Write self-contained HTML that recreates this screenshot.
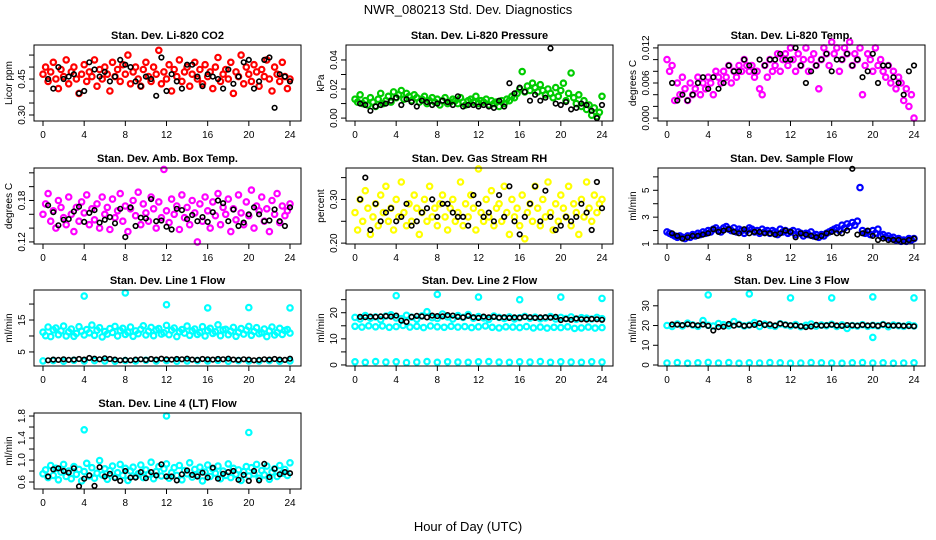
<!DOCTYPE html>
<html><head><meta charset="utf-8"><style>
html,body{margin:0;padding:0;background:#fff}
svg{display:block}
text{font-family:"Liberation Sans",sans-serif;fill:#000}
</style></head><body>
<svg id="chart" width="936" height="540" viewBox="0 0 936 540" xmlns="http://www.w3.org/2000/svg">
<text x="468" y="14" font-size="13" text-anchor="middle">NWR_080213 Std. Dev. Diagnostics</text>
<text x="468" y="531" font-size="13" text-anchor="middle">Hour of Day (UTC)</text>
</svg>
<script>
// ---- data ----
const hourTicks = [0,4,8,12,16,20,24];
const co2Red = [0.47,0.50,0.44,0.48,0.52,0.45,0.41,0.49,0.46,0.53,0.43,0.48,0.50,0.45,0.39,0.47,0.51,0.44,0.48,0.46,0.53,0.42,0.49,0.45,0.50,0.47,0.40,0.52,0.46,0.49,0.44,0.51,0.47,0.55,0.43,0.48,0.50,0.45,0.42,0.49,0.52,0.46,0.44,0.50,0.47,0.57,0.43,0.48,0.45,0.51,0.40,0.49,0.46,0.53,0.44,0.48,0.50,0.42,0.47,0.52,0.45,0.49,0.43,0.51,0.46,0.48,0.41,0.50,0.54,0.44,0.47,0.49,0.45,0.52,0.39,0.48,0.46,0.55,0.43,0.50,0.47,0.44,0.51,0.48,0.42,0.49,0.46,0.53,0.45,0.40,0.50,0.47,0.44,0.52,0.46,0.41,0.45];
const co2Black = [0.45,0.41,0.50,0.45,0.46,0.47,0.39,0.40,0.52,0.49,0.46,0.48,0.44,0.46,0.53,0.51,0.50,0.44,0.42,0.46,0.45,0.38,0.54,0.40,0.47,0.44,0.41,0.51,0.51,0.46,0.42,0.47,0.46,0.45,0.41,0.49,0.43,0.46,0.52,0.53,0.41,0.44,0.53,0.54,0.33,0.47,0.46,0.44];
const presGreen = [0.013,0.011,0.016,0.010,0.012,0.009,0.014,0.011,0.008,0.013,0.017,0.010,0.012,0.015,0.011,0.018,0.014,0.016,0.019,0.013,0.017,0.015,0.012,0.016,0.014,0.011,0.013,0.015,0.010,0.012,0.014,0.011,0.013,0.009,0.012,0.014,0.010,0.011,0.013,0.012,0.010,0.014,0.011,0.009,0.012,0.013,0.011,0.015,0.010,0.012,0.011,0.013,0.009,0.012,0.010,0.011,0.008,0.012,0.010,0.013,0.012,0.015,0.014,0.017,0.020,0.032,0.018,0.022,0.019,0.024,0.021,0.018,0.023,0.019,0.016,0.020,0.017,0.014,0.021,0.015,0.019,0.024,0.012,0.017,0.031,0.014,0.010,0.016,0.008,0.012,0.006,0.009,0.002,0.007,0.001,0.004,0.015];
const presBlack = [0.010,0.009,0.005,0.008,0.009,0.010,0.012,0.014,0.009,0.013,0.011,0.008,0.012,0.011,0.009,0.010,0.012,0.011,0.009,0.015,0.008,0.009,0.009,0.008,0.009,0.008,0.007,0.012,0.008,0.024,0.017,0.021,0.018,0.012,0.016,0.012,0.014,0.048,0.010,0.009,0.011,0.006,0.007,0.010,0.009,0.005,0.000,0.009];
const tempMag = [0.010,0.008,0.009,0.003,0.006,0.004,0.007,0.005,0.003,0.006,0.004,0.005,0.007,0.004,0.006,0.005,0.007,0.006,0.004,0.008,0.007,0.006,0.008,0.007,0.009,0.006,0.008,0.007,0.009,0.008,0.010,0.009,0.008,0.009,0.007,0.008,0.005,0.004,0.009,0.007,0.010,0.008,0.009,0.011,0.008,0.010,0.011,0.009,0.012,0.010,0.008,0.011,0.009,0.010,0.012,0.008,0.010,0.011,0.009,0.005,0.010,0.012,0.011,0.009,0.013,0.011,0.012,0.008,0.010,0.012,0.011,0.013,0.009,0.011,0.010,0.012,0.004,0.009,0.011,0.010,0.008,0.012,0.009,0.010,0.008,0.007,0.009,0.006,0.008,0.005,0.007,0.006,0.003,0.005,0.002,0.004,0.000];
const tempBlack = [0.006,0.003,0.004,0.003,0.004,0.006,0.007,0.005,0.007,0.005,0.006,0.009,0.008,0.008,0.010,0.009,0.008,0.010,0.009,0.010,0.010,0.011,0.010,0.010,0.012,0.009,0.006,0.008,0.009,0.010,0.011,0.008,0.010,0.010,0.011,0.009,0.010,0.007,0.008,0.011,0.006,0.009,0.009,0.007,0.006,0.004,0.008,0.009];
const boxMag = [0.160,0.175,0.190,0.150,0.165,0.140,0.180,0.170,0.155,0.145,0.185,0.160,0.135,0.170,0.150,0.178,0.162,0.188,0.145,0.168,0.152,0.175,0.140,0.185,0.160,0.170,0.138,0.182,0.155,0.165,0.190,0.150,0.172,0.135,0.168,0.180,0.158,0.192,0.145,0.175,0.162,0.150,0.185,0.168,0.140,0.178,0.155,0.225,0.165,0.148,0.182,0.160,0.172,0.138,0.188,0.155,0.170,0.145,0.180,0.162,0.120,0.175,0.150,0.185,0.165,0.140,0.178,0.158,0.190,0.145,0.170,0.160,0.182,0.135,0.168,0.152,0.188,0.162,0.145,0.178,0.158,0.195,0.140,0.172,0.165,0.185,0.150,0.168,0.135,0.180,0.160,0.190,0.148,0.172,0.158,0.165,0.175];
const boxBlack = [0.173,0.163,0.144,0.152,0.153,0.164,0.171,0.149,0.162,0.166,0.148,0.152,0.156,0.147,0.168,0.127,0.170,0.143,0.155,0.154,0.182,0.150,0.151,0.142,0.138,0.168,0.166,0.153,0.159,0.150,0.156,0.149,0.163,0.180,0.176,0.150,0.167,0.143,0.148,0.160,0.170,0.160,0.150,0.151,0.167,0.150,0.143,0.170];
const rhYellow = [0.27,0.23,0.30,0.25,0.32,0.28,0.22,0.26,0.29,0.24,0.31,0.27,0.33,0.25,0.28,0.23,0.30,0.26,0.34,0.27,0.24,0.29,0.25,0.31,0.28,0.22,0.27,0.30,0.25,0.33,0.26,0.28,0.24,0.29,0.31,0.26,0.23,0.28,0.30,0.25,0.27,0.34,0.24,0.29,0.26,0.31,0.28,0.23,0.37,0.27,0.25,0.30,0.26,0.32,0.24,0.28,0.29,0.25,0.33,0.27,0.22,0.30,0.26,0.28,0.24,0.31,0.21,0.27,0.29,0.25,0.33,0.28,0.24,0.30,0.26,0.34,0.27,0.23,0.29,0.25,0.31,0.28,0.26,0.33,0.24,0.29,0.27,0.22,0.30,0.26,0.34,0.28,0.25,0.31,0.27,0.29,0.30];
const rhBlack = [0.30,0.35,0.23,0.29,0.25,0.27,0.28,0.25,0.26,0.29,0.24,0.25,0.27,0.28,0.30,0.26,0.29,0.29,0.27,0.26,0.26,0.24,0.31,0.29,0.26,0.27,0.25,0.31,0.26,0.33,0.25,0.22,0.26,0.29,0.33,0.25,0.32,0.26,0.23,0.24,0.26,0.25,0.26,0.29,0.27,0.23,0.34,0.28];
const flowBlue = [1.9,1.8,1.7,1.6,1.5,1.6,1.5,1.4,1.6,1.5,1.7,1.6,1.8,1.7,1.9,1.8,2.0,1.9,2.1,2.2,2.0,1.9,2.2,2.3,2.1,2.0,2.2,1.9,2.1,2.0,1.8,2.0,2.2,2.1,1.9,2.0,1.8,2.1,1.9,2.0,1.8,2.0,1.9,1.7,2.1,1.9,2.0,1.8,1.9,2.0,1.7,1.9,1.8,1.6,1.8,1.7,1.9,1.6,1.7,1.5,1.7,1.6,1.8,1.9,2.0,2.1,2.2,2.0,2.4,2.2,2.5,2.3,2.6,2.4,2.7,5.2,2.0,1.8,1.9,1.7,2.0,1.8,2.1,1.6,1.7,1.5,1.6,1.4,1.5,1.3,1.4,1.2,1.3,1.2,1.4,1.3,1.4];
const flowBlack = [1.8,1.6,1.4,1.5,1.6,1.6,1.7,1.8,2.1,1.9,2.0,2.1,1.9,1.8,2.1,1.8,1.9,1.9,1.8,1.8,1.7,1.8,2.0,1.9,1.5,1.8,1.7,1.6,1.5,1.6,1.8,1.9,1.8,1.8,2.0,6.6,1.7,1.8,2.0,1.6,1.3,1.4,1.3,1.3,1.3,1.2,1.3,1.4];
const spikeHours = [4,8,12,16,20,24];
const line1Cyan = [11.2,10.1,12.8,9.8,11.9,12.5,10.4,11.6,13.1,10.0,11.3,12.2,9.9,10.8,12.9,11.5,10.3,12.0,11.0,13.4,10.2,11.8,12.6,9.7,11.4,10.6,12.3,11.1,13.0,10.0,11.7,12.4,10.5,11.2,12.8,9.9,11.6,10.7,12.1,13.2,10.3,11.5,12.7,10.1,11.9,12.3,10.6,11.0,13.3,10.4,11.8,12.5,9.8,11.3,12.0,10.9,13.1,10.2,11.6,12.2,10.5,11.1,12.9,10.0,11.7,12.4,10.8,11.3,13.5,10.1,11.9,12.1,10.4,11.5,12.7,9.9,11.2,12.3,10.6,11.8,13.0,10.2,11.4,12.6,10.7,11.0,12.2,9.8,11.6,12.8,10.3,11.1,12.4,10.5,11.7,12.0,10.9];
const line1Low = [2.2,2.3,2.1,2.4,2.2,2.3,2.2,2.1,2.3,2.2,2.4,2.2,2.3,2.1,2.2,2.3,2.2,2.4,2.1,2.3,2.2,2.2,2.3,2.1,2.2];
const line1Black = [2.4,2.6,2.5,2.7,2.5,2.6,2.8,2.6,3.1,2.9,2.7,3.0,2.8,2.6,2.4,2.5,2.4,2.6,2.7,2.5,2.8,2.6,2.9,2.7,2.6,2.8,2.7,2.9,2.6,2.5,2.8,2.7,2.6,2.8,2.7,2.9,2.6,2.5,2.7,2.6,2.4,2.5,2.7,2.6,2.8,2.6,2.5,2.9];
const line1Spikes = [22.5,23.5,19.8,18.8,18.9,18.8];
const line2Upper = [18.2,17.6,18.9,17.9,18.4,17.3,18.7,19.2,18.0,17.7,19.0,18.3,17.5,18.8,20.4,18.1,17.8,19.5,18.4,17.6,18.9,18.2,19.3,17.9,18.5,18.0,17.4,18.7,18.2,17.8,18.4,17.6,18.1,18.6,17.9,18.3,17.7,18.0,18.5,17.6,18.2,17.8,18.4,17.5,18.1,17.9,17.6,18.2,17.7];
const line2Mid = [14.8,14.5,15.0,14.6,14.9,14.4,14.7,15.1,14.5,14.8,14.3,14.9,14.6,14.4,14.8,14.5,14.7,14.3,14.6,14.9,14.4,14.2,14.6,14.5,14.3,14.7,14.2,14.5,14.1,14.4,14.3,14.6,14.0,14.2,14.5,14.1,14.3];
const line2Low = [1.2,1.0,1.3,1.1,1.2,0.9,1.1,1.3,1.0,1.2,1.1,1.0,1.2,1.3,1.1,1.0,1.2,1.1,1.3,1.0,1.2,1.1,1.0,1.2,1.1];
const line2Black = [18.4,18.3,18.5,18.4,18.6,18.7,18.5,18.9,17.0,16.5,18.4,18.8,18.6,18.2,18.9,18.7,18.6,19.1,18.9,18.4,18.2,18.8,18.3,18.0,18.5,18.2,18.4,18.1,18.3,18.0,18.2,18.1,18.4,18.3,18.0,18.2,18.3,18.1,18.4,17.2,17.6,17.3,17.8,17.5,17.4,17.6,17.5,17.3];
const line2Spikes = [26.5,27.0,26.0,25.0,26.0,25.5];
const line3Upper = [20.0,19.5,20.8,19.8,21.2,20.3,19.6,22.5,20.1,19.7,21.0,20.4,19.9,22.0,20.6,19.8,20.2,21.5,19.5,20.7,20.0,19.6,20.9,20.3,19.8,20.5,19.4,20.1,20.8,19.7,20.2,19.9,20.6,19.5,20.3,18.5,20.0,19.7,20.4,19.6,20.1,19.8,20.5,19.4,20.2,19.9,19.6,20.3,19.8];
const line3Low = [1.0,1.2,0.9,1.1,1.3,1.0,1.2,0.9,1.1,1.0,1.2,1.1,0.9,1.0,1.2,1.1,1.0,0.9,1.1,1.2,1.0,1.1,0.9,1.0,1.1];
const line3Black = [20.5,20.4,20.2,20.6,20.3,20.1,20.5,19.8,17.5,19.2,19.4,20.8,19.9,20.5,19.8,20.1,20.3,21.2,20.2,20.6,20.0,21.0,20.4,20.1,20.0,19.6,19.2,19.5,20.3,19.9,20.1,20.4,20.0,19.8,20.2,20.1,19.9,20.3,20.0,20.2,19.8,20.5,20.1,19.9,20.0,19.8,19.7,19.6];
const line3Spikes = [35.5,36.0,34.0,34.0,34.5,34.0];
const line3Dip = [14.0];
const line4Cyan = [0.75,0.82,0.68,0.90,0.72,0.85,0.64,0.78,0.92,0.70,0.80,0.66,0.88,0.74,0.83,0.62,0.79,0.94,0.71,0.86,0.67,0.76,0.99,0.73,0.84,0.65,0.81,0.89,0.69,0.77,0.92,0.72,0.85,0.63,0.80,0.87,0.70,0.75,0.91,0.68,0.82,0.74,0.96,0.66,0.79,0.88,0.71,0.84,0.93,0.67,0.77,0.86,0.72,0.90,0.64,0.81,0.75,0.95,0.69,0.83,0.73,0.87,0.62,0.78,0.91,0.70,0.84,0.76,0.89,0.66,0.80,0.72,0.93,0.68,0.85,0.74,0.82,0.63,0.79,0.88,0.71,0.86,0.75,0.92,0.67,0.81,0.73,0.89,0.65,0.78,0.84,0.70,0.90,0.76,0.83,0.72,0.95];
const line4Black = [0.70,0.83,0.85,0.80,0.77,0.85,0.52,0.66,0.72,0.53,0.87,0.70,0.75,0.67,0.62,0.80,0.68,0.68,0.78,0.67,0.78,0.72,0.92,0.70,0.70,0.63,0.74,0.81,0.73,0.70,0.77,0.68,0.86,0.66,0.75,0.78,0.80,0.64,0.73,0.62,0.80,0.63,0.93,0.69,0.84,0.74,0.78,0.76];
const line4Spikes = [1.55,1.80,1.50];
const line4SpikeHours = [4,12,20];

// ---- panels ----
const COLS=[34,346,658], ROWS=[45,168,290,413], BW=267, BH=76;
const panels=[
 {name:'co2',title:'Stan. Dev. Li-820 CO2',ylab:'Licor ppm',c:0,r:0,lo:0.275,hi:0.592,ticks:[0.30,0.35,0.40,0.45,0.50,0.55],labels:[0.30,0.45],fmt:2,
  series:[{v:co2Red,col:'#ff0000'},{v:co2Black,col:'#000',black:true}]},
 {name:'pressure',title:'Stan. Dev. Li-820 Pressure',ylab:'kPa',c:1,r:0,lo:-0.002,hi:0.0503,ticks:[0,0.01,0.02,0.03,0.04],labels:[0,0.02,0.04],fmt:2,
  series:[{v:presGreen,col:'#00cc00'},{v:presBlack,col:'#000',black:true}]},
 {name:'li820-temp',title:'Stan. Dev. Li-820 Temp.',ylab:'degrees C',c:2,r:0,lo:-0.0005,hi:0.0125,ticks:[0,0.002,0.004,0.006,0.008,0.010,0.012],labels:[0,0.006,0.012],fmt:3,
  series:[{v:tempMag,col:'#ff00ff'},{v:tempBlack,col:'#000',black:true}]},
 {name:'box-temp',title:'Stan. Dev. Amb. Box Temp.',ylab:'degrees C',c:0,r:1,lo:0.117,hi:0.227,ticks:[0.12,0.14,0.16,0.18,0.20,0.22],labels:[0.12,0.18],fmt:2,
  series:[{v:boxMag,col:'#ff00ff'},{v:boxBlack,col:'#000',black:true}]},
 {name:'gas-rh',title:'Stan. Dev. Gas Stream RH',ylab:'percent',c:1,r:1,lo:0.198,hi:0.372,ticks:[0.20,0.25,0.30,0.35],labels:[0.20,0.30],fmt:2,
  series:[{v:rhYellow,col:'#ffff00'},{v:rhBlack,col:'#000',black:true}]},
 {name:'sample-flow',title:'Stan. Dev. Sample Flow',ylab:'ml/min',c:2,r:1,lo:1.0,hi:6.66,ticks:[1,2,3,4,5,6],labels:[1,3,5],fmt:0,
  series:[{v:flowBlue,col:'#0000ff'},{v:flowBlack,col:'#000',black:true}]},
 {name:'line1-flow',title:'Stan. Dev. Line 1 Flow',ylab:'ml/min',c:0,r:2,lo:0.6,hi:24.4,ticks:[5,10,15,20],labels:[5,15],fmt:0,
  series:[{v:line1Cyan,col:'#00ffff'},{v:line1Low,col:'#00ffff'},{v:line1Spikes,h:spikeHours,col:'#00ffff'},{v:line1Black,col:'#000',black:true}]},
 {name:'line2-flow',title:'Stan. Dev. Line 2 Flow',ylab:'ml/min',c:1,r:2,lo:-0.4,hi:28.7,ticks:[0,5,10,15,20,25],labels:[0,10,20],fmt:0,
  series:[{v:line2Upper,col:'#00ffff'},{v:line2Mid,col:'#00ffff'},{v:line2Low,col:'#00ffff'},{v:line2Spikes,h:spikeHours,col:'#00ffff'},{v:line2Black,col:'#000',black:true}]},
 {name:'line3-flow',title:'Stan. Dev. Line 3 Flow',ylab:'ml/min',c:2,r:2,lo:-0.5,hi:38,ticks:[0,10,20,30],labels:[0,10,20,30],fmt:0,
  series:[{v:line3Upper,col:'#00ffff'},{v:line3Low,col:'#00ffff'},{v:line3Spikes,h:spikeHours,col:'#00ffff'},{v:line3Dip,h:[20],col:'#00ffff'},{v:line3Black,col:'#000',black:true}]},
 {name:'line4-flow',title:'Stan. Dev. Line 4 (LT) Flow',ylab:'ml/min',c:0,r:3,lo:0.473,hi:1.855,ticks:[0.6,0.8,1.0,1.2,1.4,1.6,1.8],labels:[0.6,1.0,1.4,1.8],fmt:1,
  series:[{v:line4Cyan,col:'#00ffff'},{v:line4Spikes,h:line4SpikeHours,col:'#00ffff'},{v:line4Black,col:'#000',black:true}]}
];
const svg=document.getElementById('chart');
const NS='http://www.w3.org/2000/svg';
function mk(tag,attrs,parent){const e=document.createElementNS(NS,tag);for(const k in attrs)e.setAttribute(k,attrs[k]);parent.appendChild(e);return e;}
panels.forEach(p=>{
  const x0=COLS[p.c], y0=ROWS[p.r];
  const g=mk('g',{},svg);
  
  
  const xs=h=>x0+9+h*(247/24);
  const ys=v=>y0+BH-(v-p.lo)/(p.hi-p.lo)*BH;
  p.series.forEach((s,si)=>{
    const sg=mk('g',{fill:'none',stroke:s.col,'stroke-width':s.black?1.6:2.2},g);
    
    
    const n=s.v.length;
    s.v.forEach((v,i)=>{
      let h;
      if(s.h) h=s.h[i]; else if(s.black) h=0.5+i*23.5/(n-1); else h=i*24/(n-1);
      const c=mk('circle',{cx:xs(h).toFixed(1),cy:ys(v).toFixed(1),r:s.black?2.3:2.7},sg);
      
      
    });
  });
  const b=mk('rect',{x:x0,y:y0,width:BW,height:BH,fill:'none',stroke:'#000','stroke-width':1},g);
  
  
  const t=mk('text',{x:x0+BW/2,y:y0-6,'font-size':11,'font-weight':'bold','text-anchor':'middle'},g);
  t.textContent=p.title;
  
  
  const xa=mk('g',{stroke:'#000','stroke-width':1},g);
  
  
  mk('line',{x1:xs(0),x2:xs(24),y1:y0+BH,y2:y0+BH},xa);
  hourTicks.forEach(h=>{
    mk('line',{x1:xs(h),x2:xs(h),y1:y0+BH,y2:y0+BH+5},xa);
    const l=mk('text',{x:xs(h),y:y0+BH+17,'font-size':10,'text-anchor':'middle',stroke:'none'},xa);
    l.textContent=h;
  });
  const ya=mk('g',{stroke:'#000','stroke-width':1},g);
  
  
  const tt=p.ticks;
  mk('line',{x1:x0,x2:x0,y1:ys(tt[0]),y2:ys(tt[tt.length-1])},ya);
  tt.forEach(v=>{mk('line',{x1:x0-5,x2:x0,y1:ys(v),y2:ys(v)},ya);});
  p.labels.forEach(v=>{
    const yy=ys(v), xx=x0-9;
    const l=mk('text',{x:xx,y:yy,'font-size':10,'text-anchor':'middle',stroke:'none',transform:`rotate(-90 ${xx} ${yy})`},ya);
    l.textContent=v.toFixed(p.fmt);
  });
  const yl=mk('text',{x:x0-22,y:y0+BH/2,'font-size':10,'text-anchor':'middle',transform:`rotate(-90 ${x0-22} ${y0+BH/2})`},g);
  yl.textContent=p.ylab;
  
  
});
</script>
</body></html>
